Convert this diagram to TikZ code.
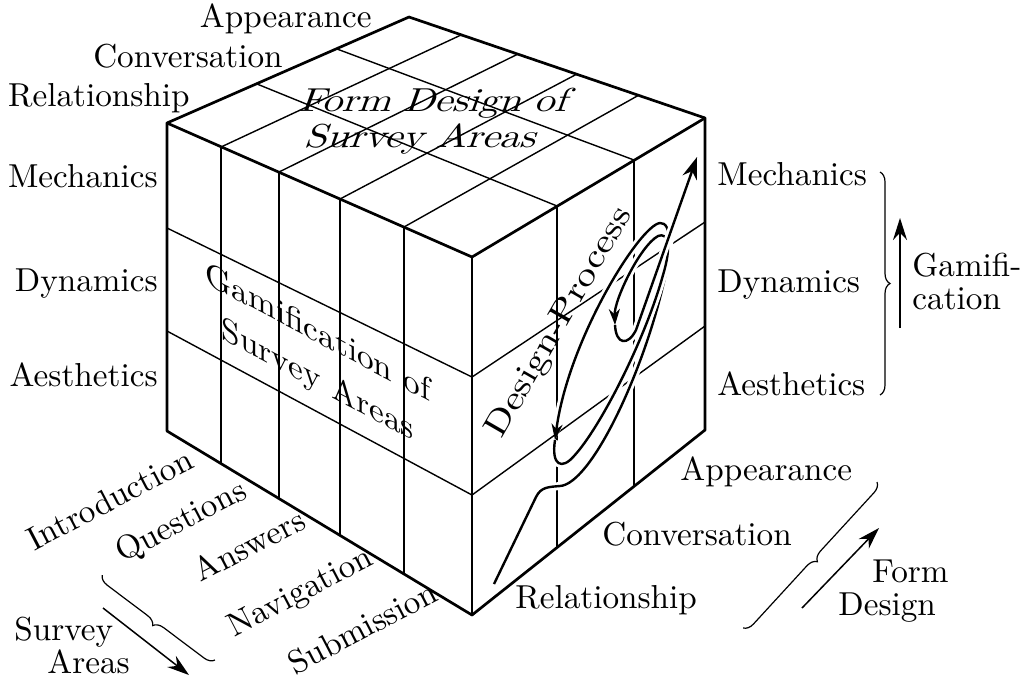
\documentclass[tikz,border=0pt]{standalone}
\usepackage{fontspec}
\setmainfont{lmroman10-regular.otf}
\usetikzlibrary{arrows.meta,decorations.pathreplacing}

\tikzset{
  edge/.style={line width=1.35pt, line join=round, line cap=round},
  gridline/.style={line width=0.7pt},
  lbl/.style={font=\fontsize{16.6}{19}\selectfont, inner sep=0pt},
  facetext/.style={inner sep=0pt, align=center},
  brc/.style={decorate, decoration={brace, amplitude=5pt}, line width=0.6pt},
  dirarrow/.style={line width=0.75pt, -{Stealth[length=11pt, width=7pt]}},
  process/.style={line width=1.2pt, preaction={draw=white, line width=4pt}},
}

\begin{document}
\begin{tikzpicture}[x=0.5pt, y=-0.5pt]
\useasboundingbox (0,0) rectangle (1031,698);

% Ecken des Wuerfels
\coordinate (lt) at (167,123);
\coordinate (lb) at (167,431);
\coordinate (nt) at (472,257);
\coordinate (nb) at (472,615);
\coordinate (rt) at (705,118);
\coordinate (rb) at (705,430);
\coordinate (bk) at (409,17);

% Raster linke Seite
\draw[gridline] (167,228) -- (472,377);
\draw[gridline] (167,331) -- (472,495);
\foreach \x/\yt/\yb in {221/147/464, 279/172/499, 340/199/535, 404/227/574}
  \draw[gridline] (\x,\yt) -- (\x,\yb);

% Raster rechte Seite
\draw[gridline] (472,377) -- (705,222);
\draw[gridline] (472,495) -- (705,326);
\foreach \x/\yt/\yb in {557/206/547, 634/160/486}
  \draw[gridline] (\x,\yt) -- (\x,\yb);

% Raster oben
\draw[gridline] (257,84) -- (557,206);
\draw[gridline] (337,49) -- (634,160);
\foreach \xa/\ya/\xb/\yb in {221/147/461/35, 279/172/518/54, 340/199/577/74, 404/227/639/95}
  \draw[gridline] (\xa,\ya) -- (\xb,\yb);

% Umriss
\draw[edge] (lt) -- (bk) -- (rt) -- (rb) -- (nb) -- (lb) -- cycle;
\draw[edge] (lt) -- (nt) -- (rt);
\draw[edge] (nt) -- (nb);

% Texte auf den Flaechen
\node[facetext, font=\fontsize{16.6}{18}\selectfont, xscale=1.2, xslant=0.3] (topface) at (429,121) {Form Design of\\Survey Areas};
\node[facetext, font=\fontsize{16.6}{23.5}\selectfont, yslant=-0.53] (leftface) at (318,358) {Gamification of\\Survey Areas};

% Designprozess
\draw[process, -{Stealth[length=8pt, width=5.5pt]}] (494,584) -- (536,497)
  .. controls (541,487) and (548,487) .. (560,486)
  .. controls (590,484) and (640,380) .. (662,290)
  .. controls (672,250) and (672,222) .. (660,223)
  .. controls (640,225) and (568,340) .. (555,440);
\draw[process, -{Stealth[length=8pt, width=5.5pt]}] (555,440)
  .. controls (551,466) and (562,470) .. (574,456)
  .. controls (600,428) and (645,340) .. (663,275)
  .. controls (672,245) and (668,232) .. (658,236)
  .. controls (640,246) and (614,300) .. (615,325);
\draw[process, -{Stealth[length=11pt, width=7.5pt]}] (615,325)
  .. controls (616,345) and (628,346) .. (636,330) -- (697,157);
\node[lbl, anchor=base, rotate=60, xscale=1.2] (design) at (567,327) {Design-Process};

% Beschriftung links oben
\node[lbl, anchor=base east] (lapp) at (372,27) {Appearance};
\node[lbl, anchor=base east] (lcon) at (283,67) {Conversation};
\node[lbl, anchor=base east] (lrel) at (190,106) {Relationship};

% Beschriftung links
\node[lbl, anchor=base east] (lmech) at (158,187) {Mechanics};
\node[lbl, anchor=base east] (ldyn) at (158,291) {Dynamics};
\node[lbl, anchor=base east] (laes) at (158,386) {Aesthetics};

% Beschriftung rechts
\node[lbl, anchor=base west] (rmech) at (717,185) {Mechanics};
\node[lbl, anchor=base west] (rdyn) at (717,292) {Dynamics};
\node[lbl, anchor=base west] (raes) at (717,395) {Aesthetics};
\draw[brc] (880,172) -- (880,395);
\coordinate (gamS) at (900,328);
\coordinate (gamE) at (900,218);
\draw[dirarrow] (gamS) -- (gamE);
\node[lbl, font=\fontsize{16.6}{16.5}\selectfont, align=left, anchor=west] (gam) at (912,281) {Gamifi-\\cation};

% Beschriftung rechts unten
\node[lbl, anchor=base west] (bapp) at (680,480) {Appearance};
\node[lbl, anchor=base west] (bcon) at (602,545) {Conversation};
\node[lbl, anchor=base west] (brel) at (515,608) {Relationship};
\draw[brc] (877,482) -- (743,628);
\coordinate (formS) at (802,608);
\coordinate (formE) at (879,528);
\draw[dirarrow] (formS) -- (formE);
\node[lbl, anchor=base west] (form) at (872,582) {Form};
\node[lbl, anchor=base west] (fdes) at (838,615) {Design};

% Beschriftung links unten
\foreach \name/\txt/\x/\y in {intro/Introduction/196/467, quest/Questions/249/497,
    answ/Answers/308/527, navi/Navigation/375/564, subm/Submission/440/600}
  \node[lbl, anchor=base east, rotate=27.5] (\name) at (\x,\y) {\txt};
\draw[brc] (215,660) -- (102,575);
\coordinate (survS) at (103,608);
\coordinate (survE) at (189,675);
\draw[dirarrow] (survS) -- (survE);
\node[lbl, anchor=base west] (surv) at (14,640) {Survey};
\node[lbl, anchor=base west] (area) at (47,673) {Areas};
\end{tikzpicture}
\end{document}
